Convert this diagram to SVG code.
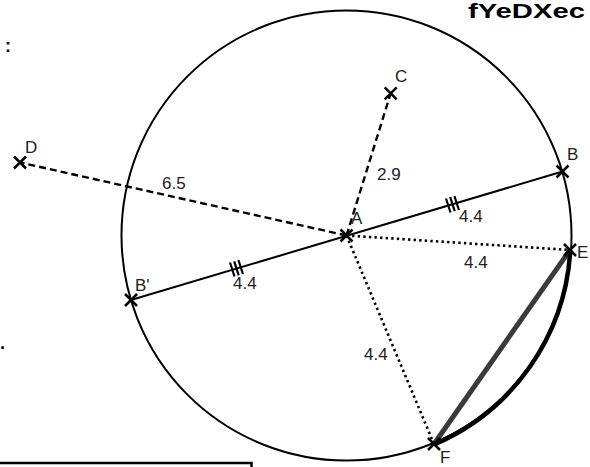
<svg xmlns="http://www.w3.org/2000/svg" width="590" height="467" viewBox="0 0 590 467">
<style>
.lbl{font-family:"Liberation Sans",Arial,sans-serif;font-size:17px;fill:#222}
.pt{stroke:#000;stroke-width:2.5;fill:none;stroke-linecap:butt}
.dash{stroke:#000;stroke-width:2.4;stroke-dasharray:7,4;fill:none}
.dot{stroke:#000;stroke-width:2.6;stroke-dasharray:2.4,3.2;fill:none}
.seg{stroke:#000;stroke-width:2;fill:none}
.tick{stroke:#000;stroke-width:2.2;fill:none}
</style>
<defs>
<path id="x" d="M-6,-6L6,6M6,-6L-6,6" class="pt"/>
</defs>
<rect width="590" height="467" fill="#fff"/>
<text x="585" y="18" text-anchor="end" textLength="117" lengthAdjust="spacingAndGlyphs" style="font-family:'Liberation Sans',Arial,sans-serif;font-weight:bold;font-size:21px;fill:#000">fYeDXec</text>
<text x="5" y="52" style="font-family:'Liberation Sans',Arial,sans-serif;font-weight:bold;font-size:18px;fill:#000">:</text>
<text x="0" y="349" style="font-family:'Liberation Sans',Arial,sans-serif;font-weight:bold;font-size:18px;fill:#000">.</text>
<path d="M0,463H251.5V467" fill="none" stroke="#000" stroke-width="2.5"/>
<g id="circle">
<circle cx="346.5" cy="235.5" r="225" fill="none" stroke="#000" stroke-width="2"/>
</g>
<g id="connectors">
<path class="dash" d="M346.5,235.5L390.7,93.3"/>
<path class="dash" d="M346.5,235.5L20,162.5"/>
<path class="seg" d="M131,300L562.5,171.5"/>
<path class="dot" d="M346.5,235.5L570,250"/>
<path class="dot" d="M346.5,235.5L434,444"/>
<path d="M570,250L434,444" stroke="#3a3a3a" stroke-width="5" fill="none"/>
<path d="M570.3,250A225,225 0 0 1 434,444.5" stroke="#000" stroke-width="4.5" fill="none"/>
<path class="tick" d="M446,198.5l4.5,14M450.2,197.2l4.5,14M454.4,196l4.5,14"/>
<path class="tick" d="M230,262.5l4.5,14M234.2,261.3l4.5,14M238.4,260l4.5,14"/>
</g>
<g id="A"><use href="#x" x="346.5" y="235.5"/><text class="lbl" x="351" y="224">A</text></g>
<g id="B"><use href="#x" x="562.5" y="171.5"/><text class="lbl" x="567" y="160">B</text></g>
<g id="Bp"><use href="#x" x="131" y="300"/><text class="lbl" x="135" y="291">B'</text></g>
<g id="C"><use href="#x" x="390.7" y="93.3"/><text class="lbl" x="395" y="82">C</text></g>
<g id="D"><use href="#x" x="20" y="162.5"/><text class="lbl" x="25" y="153">D</text></g>
<g id="E"><use href="#x" x="570" y="250"/><text class="lbl" x="577" y="258">E</text></g>
<g id="F"><use href="#x" x="434" y="444"/><text class="lbl" x="440" y="462.5">F</text></g>
<g id="labels">
<text class="lbl" x="162" y="189">6.5</text>
<text class="lbl" x="377" y="180">2.9</text>
<text class="lbl" x="459" y="222">4.4</text>
<text class="lbl" x="464" y="268">4.4</text>
<text class="lbl" x="233" y="289">4.4</text>
<text class="lbl" x="364" y="360">4.4</text>
</g>
</svg>
